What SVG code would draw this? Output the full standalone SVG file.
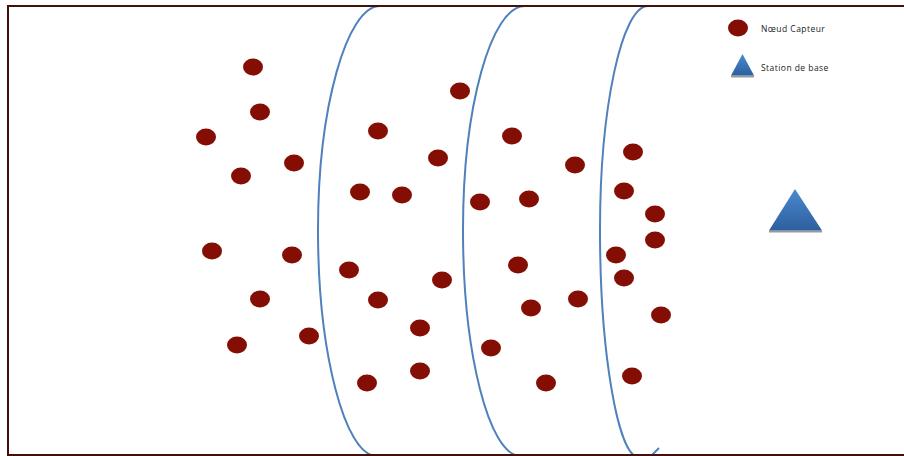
<svg xmlns="http://www.w3.org/2000/svg" width="904" height="456" viewBox="0 0 904 456">
<defs>
<linearGradient id="blue" x1="0" y1="0" x2="0" y2="1">
<stop offset="0" stop-color="#4a8ad0"/>
<stop offset="1" stop-color="#2d5f9e"/>
</linearGradient>
<style>
.node{fill:#840e04}
.arc{fill:none;stroke:#4f81bd;stroke-width:2}
.lbl{font-family:"Open Sans","Liberation Sans",sans-serif;font-size:8.5px;letter-spacing:0.45px;fill:#222}
.shadow{stroke:#9a9a9a;stroke-width:2}
</style>
</defs>
<rect x="0" y="0" width="904" height="456" fill="#fff"/>
<g id="connectors">
<path class="arc" d="M 380 6 C 347 6, 318 107, 318 230 C 318 353, 345 455, 376 456"/>
<path class="arc" d="M 525 6 C 491 6, 463 107, 463 230 C 463 353, 489 455, 520 456"/>
<path class="arc" d="M 648 6 C 622 6, 600 107, 600 230 C 600 353, 618 455, 638 457"/>
<path class="arc" d="M 651 456 L 659 448"/>
</g>
<rect x="8" y="6" width="920" height="449" fill="none" stroke="#45100c" stroke-width="2"/>
<g id="nodes">
<ellipse id="n1" class="node" cx="253" cy="67" rx="10" ry="8.5"/>
<ellipse id="n2" class="node" cx="260" cy="112" rx="10" ry="8.5"/>
<ellipse id="n3" class="node" cx="206" cy="137" rx="10" ry="8.5"/>
<ellipse id="n4" class="node" cx="241" cy="176" rx="10" ry="8.5"/>
<ellipse id="n5" class="node" cx="294" cy="163" rx="10" ry="8.5"/>
<ellipse id="n6" class="node" cx="212" cy="251" rx="10" ry="8.5"/>
<ellipse id="n7" class="node" cx="292" cy="255" rx="10" ry="8.5"/>
<ellipse id="n8" class="node" cx="260" cy="299" rx="10" ry="8.5"/>
<ellipse id="n9" class="node" cx="237" cy="345" rx="10" ry="8.5"/>
<ellipse id="n10" class="node" cx="309" cy="336" rx="10" ry="8.5"/>
<ellipse id="n11" class="node" cx="378" cy="131" rx="10" ry="8.5"/>
<ellipse id="n12" class="node" cx="360" cy="192" rx="10" ry="8.5"/>
<ellipse id="n13" class="node" cx="402" cy="195" rx="10" ry="8.5"/>
<ellipse id="n14" class="node" cx="438" cy="158" rx="10" ry="8.5"/>
<ellipse id="n15" class="node" cx="460" cy="91" rx="10" ry="8.5"/>
<ellipse id="n16" class="node" cx="349" cy="270" rx="10" ry="8.5"/>
<ellipse id="n17" class="node" cx="378" cy="300" rx="10" ry="8.5"/>
<ellipse id="n18" class="node" cx="442" cy="280" rx="10" ry="8.5"/>
<ellipse id="n19" class="node" cx="420" cy="328" rx="10" ry="8.5"/>
<ellipse id="n20" class="node" cx="367" cy="383" rx="10" ry="8.5"/>
<ellipse id="n21" class="node" cx="420" cy="371" rx="10" ry="8.5"/>
<ellipse id="n22" class="node" cx="512" cy="136" rx="10" ry="8.5"/>
<ellipse id="n23" class="node" cx="480" cy="202" rx="10" ry="8.5"/>
<ellipse id="n24" class="node" cx="529" cy="199" rx="10" ry="8.5"/>
<ellipse id="n25" class="node" cx="575" cy="165" rx="10" ry="8.5"/>
<ellipse id="n26" class="node" cx="518" cy="265" rx="10" ry="8.5"/>
<ellipse id="n27" class="node" cx="531" cy="308" rx="10" ry="8.5"/>
<ellipse id="n28" class="node" cx="578" cy="299" rx="10" ry="8.5"/>
<ellipse id="n29" class="node" cx="491" cy="348" rx="10" ry="8.5"/>
<ellipse id="n30" class="node" cx="546" cy="383" rx="10" ry="8.5"/>
<ellipse id="n31" class="node" cx="633" cy="152" rx="10" ry="8.5"/>
<ellipse id="n32" class="node" cx="624" cy="191" rx="10" ry="8.5"/>
<ellipse id="n33" class="node" cx="655" cy="214" rx="10" ry="8.5"/>
<ellipse id="n34" class="node" cx="655" cy="240" rx="10" ry="8.5"/>
<ellipse id="n35" class="node" cx="616" cy="255" rx="10" ry="8.5"/>
<ellipse id="n36" class="node" cx="624" cy="278" rx="10" ry="8.5"/>
<ellipse id="n37" class="node" cx="661" cy="315" rx="10" ry="8.5"/>
<ellipse id="n38" class="node" cx="632" cy="376" rx="10" ry="8.5"/>
</g>
<g id="base-station">
<line class="shadow" x1="769" y1="231.5" x2="822" y2="231.5"/>
<polygon points="795,189 822,230.5 769,230.5" fill="url(#blue)"/>
</g>
<g id="legend">
<ellipse class="node" cx="738" cy="28" rx="10" ry="8.5"/>
<text class="lbl" x="761" y="32">Nœud Capteur</text>
<line class="shadow" x1="731" y1="76.5" x2="754" y2="76.5"/>
<polygon points="742.5,54 754,75.5 731,75.5" fill="url(#blue)"/>
<text class="lbl" x="761" y="71">Station de base</text>
</g>
</svg>
